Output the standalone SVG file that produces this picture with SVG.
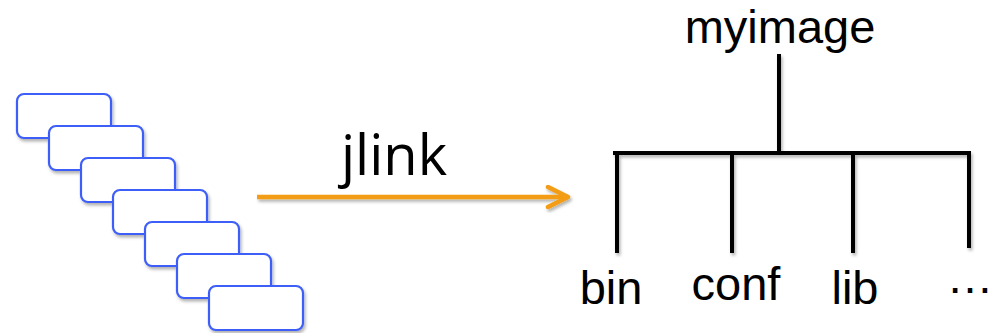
<svg xmlns="http://www.w3.org/2000/svg" width="998" height="333" viewBox="0 0 998 333">
<style>
.box{fill:#fff;stroke:#3d5ef7;stroke-width:2.2}
.tree{stroke:#000;stroke-width:4;fill:none;stroke-linecap:butt}
.lbl{font-family:"Liberation Sans",Arial,sans-serif;font-size:47px;fill:#000}
.arrow{stroke:#f39c12;stroke-width:4.5;fill:none}
</style>
<defs>
<filter id="sh" x="-10%" y="-10%" width="130%" height="140%">
<feDropShadow dx="1.5" dy="2.5" stdDeviation="1.5" flood-color="#000" flood-opacity="0.3"/>
</filter>
</defs>
<g id="modules" filter="url(#sh)">
<g id="m1"><rect class="box" x="17" y="94" width="94" height="44" rx="7"/></g>
<g id="m2"><rect class="box" x="49" y="126" width="94" height="44" rx="7"/></g>
<g id="m3"><rect class="box" x="81" y="158" width="94" height="44" rx="7"/></g>
<g id="m4"><rect class="box" x="113" y="190" width="94" height="44" rx="7"/></g>
<g id="m5"><rect class="box" x="145" y="222" width="94" height="44" rx="7"/></g>
<g id="m6"><rect class="box" x="177" y="254" width="94" height="44" rx="7"/></g>
<g id="m7"><rect class="box" x="209" y="286" width="94" height="44" rx="7"/></g>
</g>
<g id="connectors">
<g id="jlink-arrow" filter="url(#sh)">
<line class="arrow" x1="257" y1="197" x2="568" y2="197"/>
<polyline class="arrow" points="548,187 568,197 548,207" stroke-linecap="round" stroke-linejoin="round"/>
</g>
<text x="394" y="175" text-anchor="middle" style="font-family:'Open Sans','Liberation Sans',sans-serif;font-size:56px;fill:#000">jlink</text>
<g id="tree-lines" filter="url(#sh)">
<line class="tree" x1="779" y1="54" x2="779" y2="153"/>
<line class="tree" x1="613" y1="153" x2="971" y2="153"/>
<line class="tree" x1="617" y1="153" x2="617" y2="253"/>
<line class="tree" x1="732" y1="153" x2="732" y2="253"/>
<line class="tree" x1="853" y1="153" x2="853" y2="253"/>
<line class="tree" x1="969" y1="153" x2="969" y2="248"/>
</g>
</g>
<g id="myimage"><text class="lbl" x="780" y="43" text-anchor="middle">myimage</text></g>
<g id="bin"><text class="lbl" x="611" y="304" text-anchor="middle">bin</text></g>
<g id="conf"><text class="lbl" x="736" y="300" text-anchor="middle">conf</text></g>
<g id="lib"><text class="lbl" x="855" y="304" text-anchor="middle">lib</text></g>
<g id="more"><text class="lbl" x="970" y="293" text-anchor="middle">…</text></g>
</svg>
